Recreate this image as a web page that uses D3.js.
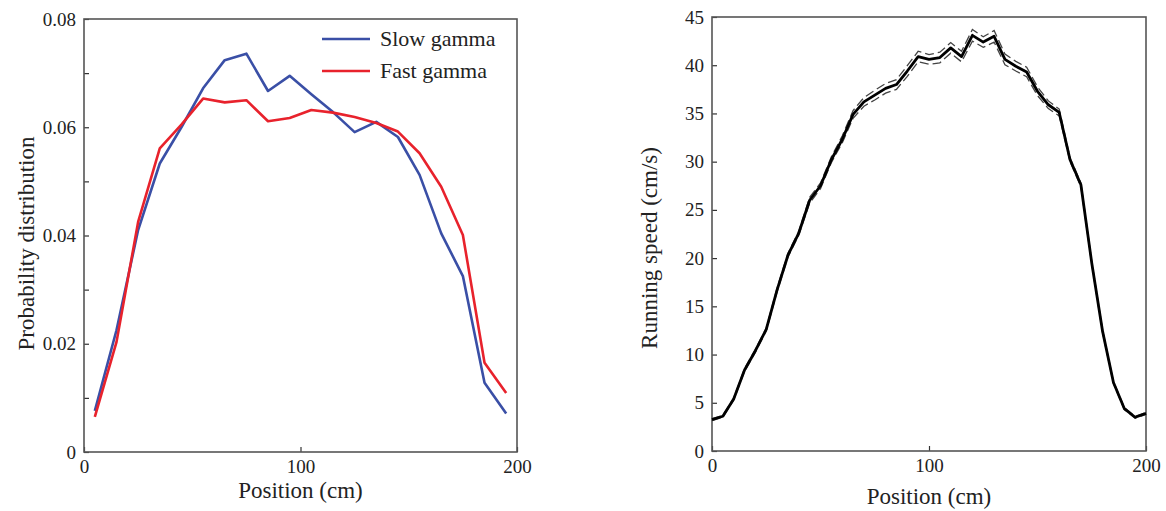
<!DOCTYPE html>
<html>
<head>
<meta charset="utf-8">
<script src="https://cdn.jsdelivr.net/npm/d3@7"></script>
<style>
  body { margin: 0; background: #fff; }
  svg { display: block; font-family: "Liberation Serif", "Times New Roman", serif; }
  .frame { fill: none; stroke: #555; stroke-width: 1.6; }
  .tick line { stroke: #333; stroke-width: 1.2; }
  .tick text { fill: #222; font-size: 19px; font-family: "Liberation Serif", "Times New Roman", serif; }
  .domain { display: none; }
</style>
</head>
<body>
<svg id="chart" width="1166" height="511"></svg>
<script>
// left panel: probability distribution of gamma events along track
const binCenters = [5, 15, 25, 35, 45, 55, 65, 75, 85, 95, 105, 115, 125, 135, 145, 155, 165, 175, 185, 195];
const slowGamma = [0.0076, 0.0225, 0.041, 0.0533, 0.060, 0.0672, 0.0724, 0.0736, 0.0667, 0.0695, 0.0661, 0.0628, 0.0591, 0.0610, 0.0582, 0.0512, 0.0404, 0.0325, 0.0128, 0.0071];
const fastGamma = [0.0065, 0.0203, 0.0425, 0.0561, 0.0605, 0.0653, 0.0646, 0.0650, 0.0611, 0.0617, 0.0632, 0.0627, 0.0619, 0.0608, 0.0592, 0.0552, 0.0490, 0.0401, 0.0165, 0.0109];
const legendLabels = ["Slow gamma", "Fast gamma"];
const seriesColors = ["#3a4fa6", "#e8222c"];

// right panel: running speed, mean and +/- sem
const speedPos = [0, 5, 10, 15, 20, 25, 30, 35, 40, 45, 50, 55, 60, 65, 70, 75, 80, 85, 90, 95, 100,
                  105, 110, 115, 120, 125, 130, 135, 140, 145, 150, 155, 160, 165, 170, 175, 180, 185, 190, 195, 200];
const speedMean = [3.25, 3.6, 5.4, 8.4, 10.4, 12.6, 16.7, 20.3, 22.6, 26.0, 27.5, 30.2, 32.3, 34.9, 36.2, 36.9, 37.6, 38.0, 39.4, 40.9, 40.6,
                   40.8, 41.8, 40.9, 43.1, 42.4, 43.0, 40.6, 39.9, 39.3, 37.3, 35.9, 35.1, 30.2, 27.6, 19.5, 12.4, 7.1, 4.4, 3.5, 3.9];
const speedSem = [0.1, 0.1, 0.1, 0.15, 0.15, 0.15, 0.2, 0.2, 0.2, 0.3, 0.3, 0.3, 0.35, 0.4, 0.45, 0.5, 0.5, 0.5, 0.55, 0.55, 0.5,
                  0.55, 0.55, 0.55, 0.6, 0.55, 0.6, 0.55, 0.5, 0.5, 0.45, 0.4, 0.35, 0.2, 0.2, 0.15, 0.15, 0.1, 0.1, 0.1, 0.1];

const svg = d3.select("#chart");

function drawFrame(g, x, y, xTicks, yTicks, yLabels, yFmt) {
    let w = x.range()[1] - x.range()[0];
    let h = y.range()[0] - y.range()[1];
    // ticks point inwards
    g.append("g").attr("transform", `translate(0,${h})`)
        .call(d3.axisBottom(x).tickValues(xTicks).tickSizeInner(-5).tickSizeOuter(0).tickPadding(8).tickFormat(d3.format("d")));
    g.append("g")
        .call(d3.axisLeft(y).tickValues(yTicks).tickSizeInner(-5).tickSizeOuter(0).tickPadding(8)
            .tickFormat(d => yLabels.some(v => Math.abs(v - d) < 1e-9) ? yFmt(d) : ""));
    g.selectAll("g").attr("font-family", null).attr("font-size", null);
    g.append("rect").attr("class", "frame").attr("width", w).attr("height", h);
}

// ---------- left panel
const L = {left: 84, top: 19, right: 517, bottom: 452};
const x1 = d3.scaleLinear().domain([0, 200]).range([0, L.right - L.left]);
const y1 = d3.scaleLinear().domain([0, 0.08]).range([L.bottom - L.top, 0]);
const g1 = svg.append("g").attr("transform", `translate(${L.left},${L.top})`);

drawFrame(g1, x1, y1, [0, 100, 200], d3.range(0, 0.0801, 0.01), [0, 0.02, 0.04, 0.06, 0.08],
    d => d === 0 ? "0" : d3.format(".2f")(d));

const line1 = d3.line().x((d, i) => x1(binCenters[i])).y(d => y1(d));
[slowGamma, fastGamma].forEach((s, i) => {
    g1.append("path").datum(s)
        .attr("d", line1)
        .attr("fill", "none")
        .attr("stroke", seriesColors[i])
        .attr("stroke-width", 2.6)
        .attr("stroke-linejoin", "round");
});

const legend = g1.append("g").attr("transform", "translate(238,20)");
legendLabels.forEach((lab, i) => {
    legend.append("line").attr("x1", 0).attr("x2", 48).attr("y1", i * 32).attr("y2", i * 32)
        .attr("stroke", seriesColors[i]).attr("stroke-width", 2.6);
    legend.append("text").attr("x", 58).attr("y", i * 32 + 7)
        .attr("font-size", 22).attr("fill", "#222").text(lab);
});

svg.append("text").attr("x", (L.left + L.right) / 2).attr("y", 498)
    .attr("text-anchor", "middle").attr("font-size", 23).attr("fill", "#222").text("Position (cm)");
svg.append("text").attr("transform", `translate(34,${(L.top + L.bottom) / 2 + 8}) rotate(-90)`)
    .attr("text-anchor", "middle").attr("font-size", 23).attr("fill", "#222").text("Probability distribution");

// ---------- right panel
const R = {left: 712, top: 17, right: 1146, bottom: 451};
const x2 = d3.scaleLinear().domain([0, 200]).range([0, R.right - R.left]);
const y2 = d3.scaleLinear().domain([0, 45]).range([R.bottom - R.top, 0]);
const g2 = svg.append("g").attr("transform", `translate(${R.left},${R.top})`);

drawFrame(g2, x2, y2, [0, 100, 200], d3.range(0, 46, 5), d3.range(0, 46, 5), d3.format("d"));

const line2 = d3.line().x((d, i) => x2(speedPos[i])).y(d => y2(d));
const upper = speedMean.map((m, i) => m + speedSem[i]);
const lower = speedMean.map((m, i) => m - speedSem[i]);
[upper, lower].forEach(s => {
    g2.append("path").datum(s)
        .attr("d", line2)
        .attr("fill", "none")
        .attr("stroke", "#444")
        .attr("stroke-width", 1.3)
        .attr("stroke-dasharray", "9,4");
});
g2.append("path").datum(speedMean)
    .attr("d", line2)
    .attr("fill", "none")
    .attr("stroke", "#000")
    .attr("stroke-width", 2.8)
    .attr("stroke-linejoin", "round");

svg.append("text").attr("x", (R.left + R.right) / 2).attr("y", 504)
    .attr("text-anchor", "middle").attr("font-size", 23).attr("fill", "#222").text("Position (cm)");
svg.append("text").attr("transform", `translate(657,${(R.top + R.bottom) / 2 + 14}) rotate(-90)`)
    .attr("text-anchor", "middle").attr("font-size", 23).attr("fill", "#222").text("Running speed (cm/s)");
</script>
</body>
</html>
